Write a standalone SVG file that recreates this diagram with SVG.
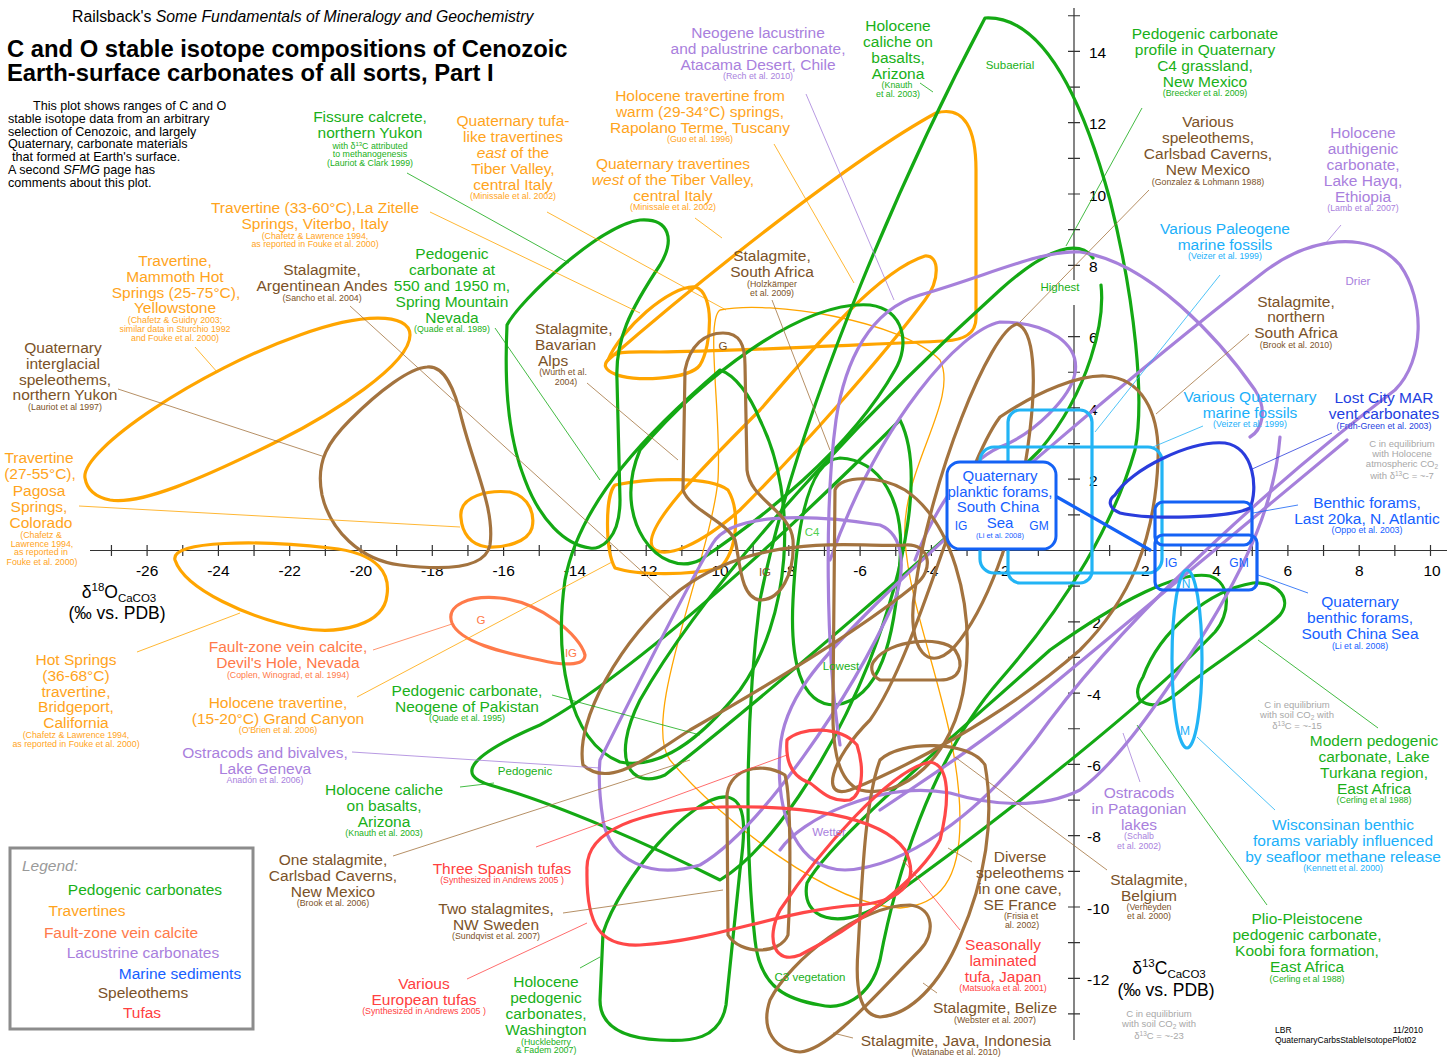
<svg xmlns="http://www.w3.org/2000/svg" width="1447" height="1057" viewBox="0 0 1447 1057">
<style>
text{font-family:"Liberation Sans",Arial,Helvetica,sans-serif}
.L{font-size:15.5px;text-anchor:middle}
.s{font-size:8.8px;text-anchor:middle}
.m{font-size:11.5px;text-anchor:middle}
.n{font-size:9.5px;text-anchor:middle;fill:#a8a8a8}
.ax{font-size:15.5px;text-anchor:middle;fill:#000}
.ay{font-size:15.5px;fill:#000}
.g{fill:#19b019}.o{fill:#ffa41c}.f{fill:#ff7a4a}.p{fill:#a97fdd}.b{fill:#1560ff}.c{fill:#1ab0fa}.d{fill:#1f3fe0}.br{fill:#7b5228}.r{fill:#ff4040}
.cv{fill:none;stroke-width:3.2;stroke-linejoin:round;stroke-linecap:round}
.th{fill:none;stroke-width:1.3}
.sg{stroke:#14a914}.so{stroke:#ffa500}.sf{stroke:#ff7a4a}.sp{stroke:#a680db}.sb{stroke:#1462f5}.sc{stroke:#22b4f5}.sd{stroke:#2a3cdc}.sbr{stroke:#a3733f}.sr{stroke:#ff4848}
.ld{fill:none;stroke-width:0.8}
</style>
<rect width="1447" height="1057" fill="#fff"/>

<g id="axes" stroke="#333" stroke-width="1.2" fill="none">
<line x1="90" y1="550.5" x2="1447" y2="550.5"/>
<line x1="1074" y1="8" x2="1074" y2="280"/>
<line x1="1074" y1="305" x2="1074" y2="1040"/>
<path d="M111.45,545V556M147.1,545V556M182.75,545V556M218.4,545V556M254.05,545V556M289.7,545V556M325.35,545V556M361,545V556M396.65,545V556M432.3,545V556M467.95,545V556M503.6,545V556M539.25,545V556M574.9,545V556M610.55,545V556M646.2,545V556M681.85,545V556M717.5,545V556M753.15,545V556M788.8,545V556M824.45,545V556M860.1,545V556M895.75,545V556M931.4,545V556M967.05,545V556M1002.7,545V556M1038.35,545V556M1109.65,545V556M1145.3,545V556M1180.95,545V556M1216.6,545V556M1252.25,545V556M1287.9,545V556M1323.55,545V556M1359.2,545V556M1394.85,545V556M1430.5,545V556"/>
<path d="M1068,15.75H1080M1068,51.4H1080M1068,87.05H1080M1068,122.7H1080M1068,158.35H1080M1068,194H1080M1068,229.65H1080M1068,265.3H1080M1068,336.6H1080M1068,372.25H1080M1068,407.9H1080M1068,443.55H1080M1068,479.2H1080M1068,514.85H1080M1068,586.15H1080M1068,621.8H1080M1068,657.45H1080M1068,693.1H1080M1068,728.75H1080M1068,764.4H1080M1068,800.05H1080M1068,835.7H1080M1068,871.35H1080M1068,907H1080M1068,942.65H1080M1068,978.3H1080M1068,1013.95H1080"/>
</g>
<g id="axis-labels">
<text class="ax" x="147.1" y="576">-26</text><text class="ax" x="218.4" y="576">-24</text><text class="ax" x="289.7" y="576">-22</text><text class="ax" x="361" y="576">-20</text><text class="ax" x="432.3" y="576">-18</text><text class="ax" x="503.6" y="576">-16</text><text class="ax" x="574.9" y="576">-14</text><text class="ax" x="646.2" y="576">-12</text><text class="ax" x="717.5" y="576">-10</text><text class="ax" x="788.8" y="576">-8</text><text class="ax" x="860.1" y="576">-6</text><text class="ax" x="931.4" y="576">-4</text><text class="ax" x="1002.7" y="576">-2</text><text class="ax" x="1145.3" y="576">2</text><text class="ax" x="1216.6" y="576">4</text><text class="ax" x="1287.9" y="576">6</text><text class="ax" x="1359.2" y="576">8</text><text class="ax" x="1432" y="576">10</text>
<text class="ay" x="1089" y="58">14</text><text class="ay" x="1089" y="129">12</text><text class="ay" x="1089" y="200.5">10</text><text class="ay" x="1089" y="272">8</text><text class="ay" x="1089" y="343">6</text><text class="ay" x="1089" y="414.5">4</text><text class="ay" x="1089" y="486">2</text><text class="ay" x="1087" y="628">-2</text><text class="ay" x="1087" y="699.5">-4</text><text class="ay" x="1087" y="771">-6</text><text class="ay" x="1087" y="842">-8</text><text class="ay" x="1087" y="913.5">-10</text><text class="ay" x="1087" y="985">-12</text>
<text x="119" y="598" font-size="17.5" text-anchor="middle">δ<tspan font-size="11.5" dy="-7">18</tspan><tspan dy="7">O</tspan><tspan font-size="11.5" dy="4">CaCO3</tspan></text>
<text x="117" y="619" font-size="17.5" text-anchor="middle">(‰ vs. PDB)</text>
<text x="1169" y="974" font-size="17.5" text-anchor="middle">δ<tspan font-size="11.5" dy="-7">13</tspan><tspan dy="7">C</tspan><tspan font-size="11.5" dy="4">CaCO3</tspan></text>
<text x="1166" y="996" font-size="17.5" text-anchor="middle">(‰ vs. PDB)</text>
</g>

<g id="regions">
<path class="cv so" d="M85,478C80,450 200,370 300,335C360,313 410,312 410,335C410,365 330,415 280,440C200,480 140,505 110,500C95,497 87,490 85,478Z"/>
<path class="cv so" d="M175,560C170,540 260,540 330,548C380,553 390,575 387,595C384,625 340,635 300,628C250,618 185,590 175,560Z"/>
<path class="cv so" d="M461,518C458,495 490,490 510,492C530,497 535,515 532,528C528,542 505,548 487,547C470,545 462,532 461,518Z"/>
<path class="cv so" d="M608,360C620,330 670,285 695,287C715,292 712,345 700,365C690,380 630,382 615,374C605,370 603,365 608,360Z"/>
<path class="cv so" d="M608,360C700,280 850,160 936,113C965,105 976,130 976,170L976,318C976,335 962,340 945,341C850,345 720,352 660,352C630,352 615,350 608,360Z"/>
<path class="cv so" d="M653,548C640,530 700,470 760,410C820,340 880,270 925,256C940,255 940,280 925,300C880,360 800,450 740,510C700,545 665,560 653,548Z"/>
<path class="cv so" d="M615,485C650,478 710,476 728,490C740,510 738,550 720,568C690,575 640,576 615,568C605,550 605,495 615,485Z"/>
<path class="th so" d="M720,310C770,300 900,320 940,360C960,400 900,470 905,540C910,620 960,720 960,820C960,880 940,905 900,908C830,905 720,820 670,760C640,720 710,560 718,480C722,420 705,320 720,310Z"/>
<path class="cv sf" d="M452,623C445,605 470,595 500,598C540,602 580,635 585,655C585,667 560,665 540,660C500,652 460,642 452,623Z"/>

<path class="cv sg" d="M507,325C520,300 600,225 640,220C670,218 675,240 660,265C630,310 615,340 617,380L620,500C620,540 600,550 590,548C565,545 540,520 525,480C505,430 505,370 507,325Z"/>
<path class="cv sg" d="M985,18C1040,15 1080,90 1110,200C1135,300 1145,400 1135,450C1115,520 1070,600 1000,680C930,760 895,880 880,960C870,1000 840,1010 820,1005C790,1000 760,990 755,940C745,850 745,720 760,600C800,400 915,150 985,18Z"/>
<path class="cv sg" d="M900,420C800,520 640,670 540,725C470,755 455,775 490,785C560,805 650,845 720,880C770,850 830,760 870,660C905,570 925,470 900,420Z"/>
<path class="cv sg" d="M603,933C620,880 690,795 727,797C748,800 745,835 740,870L726,1005C720,1040 690,1042 660,1040C620,1038 600,1025 600,1000Z"/>
<path class="cv sg" d="M840,458C880,460 905,500 900,560C895,640 880,700 835,705C800,705 790,660 793,600C797,520 810,460 840,458Z"/>
<path class="cv sg" d="M1093,258C1080,240 1050,245 1000,290C900,380 720,560 640,700C610,760 630,790 665,775C760,700 960,530 1040,450C1090,390 1105,320 1101,285"/>
<path class="cv sg" d="M1143,677C1160,630 1210,590 1253,583C1280,582 1292,600 1280,615C1260,635 1220,660 1190,683C1170,700 1155,712 1140,700C1135,693 1138,685 1143,677Z"/>
<path class="cv sg" d="M1210,576C1232,583 1230,615 1215,632C1150,700 1000,820 880,905C840,930 800,920 807,883C830,840 950,740 1050,650C1120,600 1180,570 1210,576Z"/>
<path class="cv sg" d="M640,450C700,380 800,300 870,305C905,310 910,345 895,370C850,450 760,520 700,560C660,580 610,520 640,450Z"/>
<path class="cv sg" d="M720,370C650,430 580,500 565,580C555,650 565,740 620,762C660,770 700,740 740,690C790,620 800,500 760,420C750,395 735,375 720,370Z"/>

<path class="cv sp" d="M780,750C775,820 800,870 845,870C900,868 980,820 1050,720C1140,600 1290,470 1395,390C1425,360 1425,300 1400,265C1370,230 1310,235 1260,275C1150,360 960,520 870,610C820,660 783,700 780,750Z"/>
<path class="cv sp" d="M840,745C825,650 825,500 836,420C845,360 870,310 920,295C990,275 1040,250 1080,252C1150,262 1220,340 1255,390C1268,410 1262,430 1250,437"/>
<path class="cv sp" d="M600,760C640,680 690,580 713,543C730,515 800,512 880,525C905,535 905,570 895,600C850,700 760,830 700,865C650,880 610,860 603,820C600,800 598,780 600,760Z"/>
<path class="cv sp" d="M1280,437C1275,500 1250,560 1200,640C1160,700 1120,760 1080,790C1040,810 990,805 950,793C880,780 800,820 780,850"/>
<path class="cv sp" d="M1347,440L1050,687C1000,730 940,770 880,810"/>
<path class="cv sp" d="M830,560C880,420 960,330 1000,322C1050,322 1080,345 1075,373C1071,397 1034,434 1000,447C960,465 930,520 915,560"/>

<path class="cv sbr" d="M427,367C445,365 455,390 462,420C475,470 495,510 490,545C485,570 440,570 400,565C360,560 330,530 322,495C315,460 330,440 350,420C380,390 410,368 427,367Z"/>
<path class="cv sbr" d="M723,333C740,333 745,345 745,365L747,470C750,500 790,510 793,540C795,575 780,600 760,600C740,598 740,560 735,540C725,520 690,510 683,490L685,370C690,345 705,333 723,333Z"/>
<path class="cv sbr" d="M835,490C840,475 880,475 905,490C950,520 975,600 965,680C955,760 900,800 860,790C835,780 832,740 833,700L835,490Z"/>
<path class="cv sbr" d="M875,660C890,640 940,635 955,650C965,665 960,680 940,680L880,680C870,675 870,665 875,660Z"/>
<path class="cv sbr" d="M583,765C575,720 620,640 680,590C760,530 860,548 905,545C930,543 935,570 915,585C860,630 760,690 690,730C650,755 610,790 583,765Z"/>
<path class="cv sbr" d="M1000,417C1040,390 1080,375 1105,376C1140,378 1160,410 1158,460C1155,540 1130,600 1080,650C1000,720 900,770 850,790C820,800 830,760 870,720C920,650 960,470 1000,417Z"/>
<path class="cv sbr" d="M1017,324C1035,330 1036,380 1030,430C1020,520 990,600 960,640C930,680 905,650 915,590C930,480 990,330 1017,324Z"/>
<path class="cv sbr" d="M770,1000C790,960 860,905 910,905C935,908 935,935 920,950C880,990 830,1050 800,1052C775,1050 760,1030 770,1000Z"/>
<path class="cv sbr" d="M880,760C900,740 970,740 985,765C995,820 985,880 960,937C940,985 910,1015 880,1017C860,1015 855,990 858,950C862,880 865,800 880,760Z"/>
<path class="cv sbr" d="M727,800C725,770 760,760 785,775C792,800 790,900 788,935C780,955 740,955 728,935Z"/>

<path class="cv sr" d="M587,870C585,830 640,810 720,807C800,805 880,815 905,850C920,880 905,900 860,905C780,910 720,940 640,945C600,947 586,925 587,870Z"/>
<path class="cv sr" d="M787,740C800,727 840,725 857,745C865,770 862,795 850,800C830,803 820,790 810,783C795,778 785,765 787,740Z"/>
<path class="cv sr" d="M930,762C950,765 950,800 940,840C920,880 850,930 800,955C775,965 765,940 780,910C820,850 890,770 930,762Z"/>

<rect class="cv sc" x="1008" y="410" width="84" height="173" rx="12"/>
<rect class="cv sc" x="980" y="447" width="182" height="126" rx="14"/>
<ellipse class="cv sc" cx="1187" cy="659" rx="15" ry="89" stroke-width="2"/>
<path class="cv sd" stroke-width="2.5" d="M1115,495C1130,470 1190,440 1225,443C1255,448 1258,490 1250,508C1230,518 1150,520 1120,513C1108,508 1108,500 1115,495Z"/>
<line class="cv sb" x1="1057" y1="497" x2="1150" y2="550"/>
<rect class="cv sb" x="1155" y="502" width="97" height="43" rx="8"/>
<rect class="cv sb" x="1155" y="535" width="102" height="55" rx="8"/>
</g>

<g id="connectors">
<line class="ld sg" x1="407" y1="173" x2="569" y2="263"/>
<line class="ld so" x1="547" y1="212" x2="726" y2="310"/>
<line class="ld so" x1="430" y1="212" x2="640" y2="313"/>
<line class="ld so" x1="774" y1="144" x2="854" y2="283"/>
<line class="ld so" x1="695" y1="218" x2="722" y2="238"/>
<line class="ld sp" x1="806" y1="94" x2="894" y2="300"/>
<line class="ld sg" x1="920" y1="83" x2="933" y2="92"/>
<line class="ld sg" x1="1142" y1="108" x2="1066" y2="246"/>
<line class="ld sbr" x1="1149" y1="190" x2="1020" y2="322"/>
<line class="ld sp" x1="1341" y1="225" x2="1325" y2="244"/>
<line class="ld sc" x1="1220" y1="275" x2="1095" y2="432"/>
<line class="ld sbr" x1="1249" y1="334" x2="1156" y2="414"/>
<line class="ld sc" x1="1203" y1="426" x2="1153" y2="447"/>
<line class="ld sd" x1="1332" y1="433" x2="1250" y2="470"/>
<line class="ld sb" x1="1298" y1="505" x2="1253" y2="513"/>
<line class="ld sb" x1="1308" y1="593" x2="1258" y2="575"/>
<line class="ld sg" x1="1378" y1="728" x2="1258" y2="640"/>
<line class="ld sc" x1="1275" y1="810" x2="1197" y2="737"/>
<line class="ld sg" x1="1267" y1="905" x2="1137" y2="725"/>
<line class="ld sp" x1="1140" y1="782" x2="1123" y2="733"/>
<line class="ld sbr" x1="1107" y1="870" x2="955" y2="757"/>
<line class="ld sbr" x1="972" y1="862" x2="948" y2="848"/>
<line class="ld sr" x1="960" y1="930" x2="903" y2="860"/>
<line class="ld sbr" x1="937" y1="993" x2="923" y2="983"/>
<line class="ld sbr" x1="853" y1="1038" x2="833" y2="1033"/>
<line class="ld sg" x1="580" y1="968" x2="600" y2="957"/>
<line class="ld sr" x1="467" y1="979" x2="587" y2="923"/>
<line class="ld sbr" x1="563" y1="913" x2="723" y2="890"/>
<line class="ld sr" x1="536" y1="847" x2="787" y2="755"/>
<line class="ld sbr" x1="393" y1="856" x2="690" y2="760"/>
<line class="ld sg" x1="460" y1="787" x2="494" y2="783"/>
<line class="ld sp" x1="352" y1="752" x2="600" y2="768"/>
<line class="ld so" x1="357" y1="697" x2="612" y2="562"/>
<line class="ld sg" x1="552" y1="695" x2="700" y2="735"/>
<line class="ld sf" x1="373" y1="650" x2="452" y2="624"/>
<line class="ld so" x1="137" y1="652" x2="240" y2="613"/>
<line class="ld so" x1="79" y1="506" x2="460" y2="527"/>
<line class="ld sbr" x1="118" y1="389" x2="325" y2="457"/>
<line class="ld so" x1="195" y1="347" x2="218" y2="373"/>
<line class="ld sbr" x1="350" y1="306" x2="670" y2="597"/>
<line class="ld sg" x1="495" y1="328" x2="600" y2="480"/>
<line class="ld sbr" x1="587" y1="383" x2="678" y2="460"/>
<line class="ld sbr" x1="772" y1="300" x2="830" y2="450"/>
</g>

<g id="header">
<text x="72" y="22" font-size="15.8">Railsback's <tspan font-style="italic">Some Fundamentals of Mineralogy and Geochemistry</tspan></text>
<text x="7" y="57" font-size="23.8" font-weight="bold">C and O stable isotope compositions of Cenozoic</text>
<text x="7" y="81" font-size="23.8" font-weight="bold">Earth-surface carbonates of all sorts, Part I</text>
<text font-size="12.6"><tspan x="33" y="110">This plot shows ranges of C and O</tspan><tspan x="8" y="122.8">stable isotope data from an arbitrary</tspan><tspan x="8" y="135.6">selection of Cenozoic, and largely</tspan><tspan x="8" y="148.4">Quaternary, carbonate materials</tspan><tspan x="12" y="161.2">that formed at Earth's surface.</tspan><tspan x="8" y="174">A second <tspan font-style="italic">SFMG</tspan> page has</tspan><tspan x="8" y="186.8">comments about this plot.</tspan></text>
</g>

<g id="n-fissure"><text class="L g"><tspan x="370" y="122">Fissure calcrete,</tspan><tspan x="370" y="138">northern Yukon</tspan></text><text class="s g"><tspan x="370" y="149">with δ<tspan font-size="6" dy="-3">13</tspan><tspan dy="3">C attributed</tspan></tspan><tspan x="370" y="157">to methanogenesis</tspan><tspan x="370" y="166">(Lauriot &amp; Clark 1999)</tspan></text></g>
<g id="n-tufa-east"><text class="L o"><tspan x="513" y="126">Quaternary tufa-</tspan><tspan x="513" y="142">like travertines</tspan><tspan x="513" y="158"><tspan font-style="italic">east</tspan> of the</tspan><tspan x="513" y="174">Tiber Valley,</tspan><tspan x="513" y="190">central Italy</tspan></text><text class="s o" x="513" y="199">(Minissale et al. 2002)</text></g>
<g id="n-rapolano"><text class="L o"><tspan x="700" y="101">Holocene travertine from</tspan><tspan x="700" y="117">warm (29-34°C) springs,</tspan><tspan x="700" y="133">Rapolano Terme, Tuscany</tspan></text><text class="s o" x="700" y="142">(Guo et al. 1996)</text></g>
<g id="n-tiber-west"><text class="L o"><tspan x="673" y="169">Quaternary travertines</tspan><tspan x="673" y="185"><tspan font-style="italic">west</tspan> of the Tiber Valley,</tspan><tspan x="673" y="201">central Italy</tspan></text><text class="s o" x="673" y="210">(Minissale et al. 2002)</text></g>
<g id="n-atacama"><text class="L p"><tspan x="758" y="38">Neogene lacustrine</tspan><tspan x="758" y="54">and palustrine carbonate,</tspan><tspan x="758" y="70">Atacama Desert, Chile</tspan></text><text class="s p" x="758" y="79">(Rech et al. 2010)</text></g>
<g id="n-caliche-top"><text class="L g"><tspan x="898" y="31">Holocene</tspan><tspan x="898" y="47">caliche on</tspan><tspan x="898" y="63">basalts,</tspan><tspan x="898" y="79">Arizona</tspan></text><text class="s g"><tspan x="897" y="88">(Knauth</tspan><tspan x="898" y="97">et al. 2003)</tspan></text></g>
<g id="n-newmexico-c4"><text class="L g"><tspan x="1205" y="39">Pedogenic carbonate</tspan><tspan x="1205" y="55">profile in Quaternary</tspan><tspan x="1205" y="71">C4 grassland,</tspan><tspan x="1205" y="87">New Mexico</tspan></text><text class="s g" x="1205" y="96">(Breecker et al. 2009)</text></g>
<g id="n-carlsbad-various"><text class="L br"><tspan x="1208" y="127">Various</tspan><tspan x="1208" y="143">speleothems,</tspan><tspan x="1208" y="159">Carlsbad Caverns,</tspan><tspan x="1208" y="175">New Mexico</tspan></text><text class="s br" x="1208" y="185">(Gonzalez &amp; Lohmann 1988)</text></g>
<g id="n-hayq"><text class="L p"><tspan x="1363" y="138">Holocene</tspan><tspan x="1363" y="154">authigenic</tspan><tspan x="1363" y="170">carbonate,</tspan><tspan x="1363" y="186">Lake Hayq,</tspan><tspan x="1363" y="202">Ethiopia</tspan></text><text class="s p" x="1363" y="211">(Lamb et al. 2007)</text></g>
<g id="n-paleogene"><text class="L c"><tspan x="1225" y="234">Various Paleogene</tspan><tspan x="1225" y="250">marine fossils</tspan></text><text class="s c" x="1225" y="259">(Veizer et al. 1999)</text></g>
<g id="n-nsafrica"><text class="L br"><tspan x="1296" y="307">Stalagmite,</tspan><tspan x="1296" y="322">northern</tspan><tspan x="1296" y="338">South Africa</tspan></text><text class="s br" x="1296" y="348">(Brook et al. 2010)</text></g>
<g id="n-quat-marine"><text class="L c"><tspan x="1250" y="402">Various Quaternary</tspan><tspan x="1250" y="418">marine fossils</tspan></text><text class="s c" x="1250" y="427">(Veizer et al. 1999)</text></g>
<g id="n-lostcity"><text class="L d"><tspan x="1384" y="403">Lost City MAR</tspan><tspan x="1384" y="419">vent carbonates</tspan></text><text class="s d" x="1384" y="429">(Früh-Green et al. 2003)</text></g>
<g id="n-eq-atm"><text class="n"><tspan x="1402" y="447">C in equilibrium</tspan><tspan x="1402" y="457">with Holocene</tspan><tspan x="1402" y="467">atmospheric CO<tspan font-size="6.5" dy="2">2</tspan></tspan><tspan x="1402" y="479">with δ<tspan font-size="6.5" dy="-3">13</tspan><tspan dy="3">C = ~-7</tspan></tspan></text></g>
<g id="n-natlantic"><text class="L b"><tspan x="1367" y="508">Benthic forams,</tspan><tspan x="1367" y="524">Last 20ka, N. Atlantic</tspan></text><text class="s b" x="1367" y="533">(Oppo et al. 2003)</text></g>
<g id="n-scs-benthic"><text class="L b"><tspan x="1360" y="607">Quaternary</tspan><tspan x="1360" y="623">benthic forams,</tspan><tspan x="1360" y="639">South China Sea</tspan></text><text class="s b" x="1360" y="649">(Li et al. 2008)</text></g>
<g id="n-eq-15"><text class="n"><tspan x="1297" y="708">C in equilibrium</tspan><tspan x="1297" y="718">with soil CO<tspan font-size="6.5" dy="2">2</tspan><tspan dy="-2"> with</tspan></tspan><tspan x="1297" y="729">δ<tspan font-size="6.5" dy="-3">13</tspan><tspan dy="3">C = ~-15</tspan></tspan></text></g>
<g id="n-turkana"><text class="L g"><tspan x="1374" y="746">Modern pedogenic</tspan><tspan x="1374" y="762">carbonate,  Lake</tspan><tspan x="1374" y="778">Turkana region,</tspan><tspan x="1374" y="794">East Africa</tspan></text><text class="s g" x="1374" y="803">(Cerling et al 1988)</text></g>
<g id="n-wisconsinan"><text class="L c"><tspan x="1343" y="830">Wisconsinan benthic</tspan><tspan x="1343" y="846">forams variably influenced</tspan><tspan x="1343" y="862">by seafloor methane release</tspan></text><text class="s c" x="1343" y="871">(Kennett et al. 2000)</text></g>
<g id="n-koobi"><text class="L g"><tspan x="1307" y="924">Plio-Pleistocene</tspan><tspan x="1307" y="940">pedogenic carbonate,</tspan><tspan x="1307" y="956">Koobi fora formation,</tspan><tspan x="1307" y="972">East Africa</tspan></text><text class="s g" x="1307" y="982">(Cerling et al 1988)</text></g>
<g id="n-credit"><text font-size="8.5"><tspan x="1275" y="1033">LBR</tspan><tspan x="1275" y="1043">QuaternaryCarbsStableIsotopePlot02</tspan></text><text font-size="8.5" x="1423" y="1033" text-anchor="end">11/2010</text></g>
<g id="n-eq-23"><text class="n"><tspan x="1159" y="1017">C in equilibrium</tspan><tspan x="1159" y="1027">with soil CO<tspan font-size="6.5" dy="2">2</tspan><tspan dy="-2"> with</tspan></tspan><tspan x="1159" y="1039">δ<tspan font-size="6.5" dy="-3">13</tspan><tspan dy="3">C = ~-23</tspan></tspan></text></g>
<g id="n-patagonia"><text class="L p"><tspan x="1139" y="798">Ostracods</tspan><tspan x="1139" y="814">in Patagonian</tspan><tspan x="1139" y="830">lakes</tspan></text><text class="s p"><tspan x="1139" y="839">(Schalb</tspan><tspan x="1139" y="849">et al. 2002)</tspan></text></g>
<g id="n-belgium"><text class="L br"><tspan x="1149" y="885">Stalagmite,</tspan><tspan x="1149" y="901">Belgium</tspan></text><text class="s br"><tspan x="1149" y="910">(Verheyden</tspan><tspan x="1149" y="919">et al. 2000)</tspan></text></g>
<g id="n-sefrance"><text class="L br"><tspan x="1020" y="862">Diverse</tspan><tspan x="1020" y="878">speleothems</tspan><tspan x="1020" y="894">in one cave,</tspan><tspan x="1020" y="910">SE France</tspan></text><text class="s br"><tspan x="1021" y="919">(Frisia et</tspan><tspan x="1022" y="928">al. 2002)</tspan></text></g>
<g id="n-japan"><text class="L r"><tspan x="1003" y="950">Seasonally</tspan><tspan x="1003" y="966">laminated</tspan><tspan x="1003" y="982">tufa, Japan</tspan></text><text class="s r" x="1003" y="991">(Matsuoka et al. 2001)</text></g>
<g id="n-belize"><text class="L br" x="995" y="1013">Stalagmite, Belize</text><text class="s br" x="995" y="1023">(Webster et al. 2007)</text></g>
<g id="n-java"><text class="L br" x="956" y="1046">Stalagmite, Java, Indonesia</text><text class="s br" x="956" y="1055">(Watanabe et al. 2010)</text></g>
<g id="n-washington"><text class="L g"><tspan x="546" y="987">Holocene</tspan><tspan x="546" y="1003">pedogenic</tspan><tspan x="546" y="1019">carbonates,</tspan><tspan x="546" y="1035">Washington</tspan></text><text class="s g"><tspan x="546" y="1045">(Huckleberry</tspan><tspan x="546" y="1053">&amp; Fadem 2007)</tspan></text></g>
<g id="n-eurotufa"><text class="L r"><tspan x="424" y="989">Various</tspan><tspan x="424" y="1005">European tufas</tspan></text><text class="s r" x="424" y="1014">(Synthesized in Andrews 2005 )</text></g>
<g id="n-sweden"><text class="L br"><tspan x="496" y="914">Two stalagmites,</tspan><tspan x="496" y="930">NW Sweden</tspan></text><text class="s br" x="496" y="939">(Sundqvist et al. 2007)</text></g>
<g id="n-spain"><text class="L r" x="502" y="874">Three Spanish tufas</text><text class="s r" x="502" y="883">(Synthesized in Andrews 2005 )</text></g>
<g id="n-carlsbad-one"><text class="L br"><tspan x="333" y="865">One stalagmite,</tspan><tspan x="333" y="881">Carlsbad Caverns,</tspan><tspan x="333" y="897">New Mexico</tspan></text><text class="s br" x="333" y="906">(Brook et al. 2006)</text></g>
<g id="n-caliche-left"><text class="L g"><tspan x="384" y="795">Holocene caliche</tspan><tspan x="384" y="811">on basalts,</tspan><tspan x="384" y="827">Arizona</tspan></text><text class="s g" x="384" y="836">(Knauth et al. 2003)</text></g>
<g id="n-geneva"><text class="L p"><tspan x="265" y="758">Ostracods and bivalves,</tspan><tspan x="265" y="774">Lake Geneva</tspan></text><text class="s p" x="265" y="783">Anadón et al. 2006)</text></g>
<g id="n-grandcanyon"><text class="L o"><tspan x="278" y="708">Holocene travertine,</tspan><tspan x="278" y="724">(15-20°C) Grand Canyon</tspan></text><text class="s o" x="278" y="733">(O'Brien et al. 2006)</text></g>
<g id="n-pakistan"><text class="L g"><tspan x="467" y="696">Pedogenic carbonate,</tspan><tspan x="467" y="712">Neogene of Pakistan</tspan></text><text class="s g" x="467" y="721">(Quade et al. 1995)</text></g>
<g id="n-devilshole"><text class="L f"><tspan x="288" y="652">Fault-zone vein calcite,</tspan><tspan x="288" y="668">Devil's Hole, Nevada</tspan></text><text class="s f" x="288" y="678">(Coplen, Winograd, et al. 1994)</text></g>
<g id="n-bridgeport"><text class="L o"><tspan x="76" y="665">Hot Springs</tspan><tspan x="76" y="681">(36-68°C)</tspan><tspan x="76" y="697">travertine,</tspan><tspan x="76" y="712">Bridgeport,</tspan><tspan x="76" y="728">California</tspan></text><text class="s o"><tspan x="76" y="738">(Chafetz &amp; Lawrence 1994,</tspan><tspan x="76" y="747">as reported in Fouke et al. 2000)</tspan></text></g>
<g id="n-pagosa"><text class="L o"><tspan x="39" y="463">Travertine</tspan><tspan x="40" y="479">(27-55°C),</tspan><tspan x="39" y="496">Pagosa</tspan><tspan x="39" y="512">Springs,</tspan><tspan x="41" y="528">Colorado</tspan></text><text class="s o"><tspan x="41" y="538">(Chafetz &amp;</tspan><tspan x="42" y="547">Lawrence 1994,</tspan><tspan x="41" y="555">as reported in</tspan><tspan x="42" y="565">Fouke et al. 2000)</tspan></text></g>
<g id="n-yukon"><text class="L br"><tspan x="63" y="353">Quaternary</tspan><tspan x="63" y="369">interglacial</tspan><tspan x="65" y="385">speleothems,</tspan><tspan x="65" y="400">northern Yukon</tspan></text><text class="s br" x="65" y="410">(Lauriot et al 1997)</text></g>
<g id="n-mammoth"><text class="L o"><tspan x="175" y="266">Travertine,</tspan><tspan x="175" y="282">Mammoth Hot</tspan><tspan x="176" y="298">Springs (25-75°C),</tspan><tspan x="175" y="313">Yellowstone</tspan></text><text class="s o"><tspan x="175" y="323">(Chafetz &amp; Guidry 2003;</tspan><tspan x="175" y="332">similar data in Sturchio 1992</tspan><tspan x="175" y="341">and Fouke et al. 2000)</tspan></text></g>
<g id="n-andes"><text class="L br"><tspan x="322" y="275">Stalagmite,</tspan><tspan x="322" y="291">Argentinean Andes</tspan></text><text class="s br" x="322" y="301">(Sancho  et al. 2004)</text></g>
<g id="n-zitelle"><text class="L o"><tspan x="315" y="213">Travertine (33-60°C),La Zitelle</tspan><tspan x="315" y="229">Springs, Viterbo, Italy</tspan></text><text class="s o"><tspan x="315" y="239">(Chafetz &amp; Lawrence 1994,</tspan><tspan x="315" y="247">as reported in Fouke et al. 2000)</tspan></text></g>
<g id="n-nevada"><text class="L g"><tspan x="452" y="259">Pedogenic</tspan><tspan x="452" y="275">carbonate at</tspan><tspan x="452" y="291">550 and 1950 m,</tspan><tspan x="452" y="307">Spring Mountain</tspan><tspan x="452" y="323">Nevada</tspan></text><text class="s g" x="452" y="332">(Quade et al. 1989)</text></g>
<g id="n-bavaria"><text class="br" font-size="15.5"><tspan x="535" y="334">Stalagmite,</tspan><tspan x="535" y="350">Bavarian</tspan><tspan x="538" y="366">Alps</tspan></text><text class="s br"><tspan x="563" y="375">(Wurth et al.</tspan><tspan x="566" y="385">2004)</tspan></text></g>
<g id="n-safrica"><text class="L br"><tspan x="772" y="261">Stalagmite,</tspan><tspan x="772" y="277">South Africa</tspan></text><text class="s br"><tspan x="772" y="287">(Holzkämper</tspan><tspan x="772" y="296">et al. 2009)</tspan></text></g>
<g id="n-scs-planktic"><rect x="947" y="462" width="109" height="87" rx="13" fill="#fff" stroke="#1462f5" stroke-width="3"/><text class="b" font-size="15" text-anchor="middle"><tspan x="1000" y="481">Quaternary</tspan><tspan x="1000" y="497">planktic forams,</tspan><tspan x="998" y="512">South China</tspan><tspan x="1000" y="528">Sea</tspan></text><text class="b" font-size="12" text-anchor="middle"><tspan x="961" y="530">IG</tspan><tspan x="1039" y="530">GM</tspan></text><text class="b" font-size="7.5" text-anchor="middle" x="1000" y="538">(Li et al. 2008)</text></g>

<g id="region-notes">
<text class="m g" x="1010" y="69">Subaerial</text>
<text class="m g" x="1060" y="291">Highest</text>
<text class="m p" x="1358" y="285">Drier</text>
<text class="m" x="812" y="536" fill="#4fcf4f">C4</text>
<text class="m g" x="841" y="670">Lowest</text>
<text class="m p" x="829" y="836">Wetter</text>
<text class="m g" x="810" y="981">C3 vegetation</text>
<text class="m g" x="525" y="775">Pedogenic</text>
<text class="m br" x="765" y="576">IG</text>
<text class="m br" x="723" y="350">G</text>
<text class="m f" x="481" y="624">G</text>
<text class="m f" x="571" y="657">IG</text>
<text class="b" font-size="12" text-anchor="middle" x="1171" y="567">IG</text>
<text class="b" font-size="12" text-anchor="middle" x="1239" y="567">GM</text>
<text class="c" font-size="12" text-anchor="middle" x="1186" y="588">N</text>
<text class="c" font-size="12" text-anchor="middle" x="1185" y="735">M</text>
</g>

<g id="legend">
<rect x="10" y="848" width="243" height="181" fill="#fff" stroke="#8c8c8c" stroke-width="3"/>
<text x="22" y="871" font-size="15.5" font-style="italic" fill="#999">Legend:</text>
<text class="L g" x="145" y="895">Pedogenic carbonates</text>
<text class="L o" x="87" y="916">Travertines</text>
<text class="L f" x="121" y="938">Fault-zone vein calcite</text>
<text class="L p" x="143" y="958">Lacustrine carbonates</text>
<text class="L b" x="180" y="979">Marine sediments</text>
<text class="L br" x="143" y="998">Speleothems</text>
<text class="L r" x="142" y="1018">Tufas</text>
</g>
</svg>
